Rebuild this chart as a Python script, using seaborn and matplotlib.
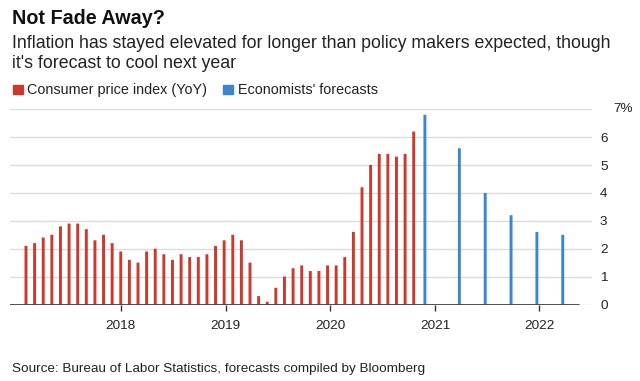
import pandas as pd
import seaborn as sns
import matplotlib.pyplot as plt
from matplotlib.patches import Rectangle

# CPI year-over-year, monthly (month index 0 = first bar)
cpi_values = [2.1, 2.2, 2.4, 2.5, 2.8, 2.9, 2.9, 2.7, 2.3, 2.5, 2.2, 1.9,
              1.6, 1.5, 1.9, 2.0, 1.8, 1.6, 1.8, 1.7, 1.7, 1.8, 2.1, 2.3,
              2.5, 2.3, 1.5, 0.3, 0.1, 0.6, 1.0, 1.3, 1.4, 1.2, 1.2, 1.4,
              1.4, 1.7, 2.6, 4.2, 5.0, 5.4, 5.4, 5.3, 5.4, 6.2]
cpi_months = list(range(len(cpi_values)))

# Economists' forecasts (quarterly, in month units)
forecast_months = [46.3, 50.3, 53.3, 56.3, 59.3, 62.3]
forecast_values = [6.8, 5.6, 4.0, 3.2, 2.6, 2.5]

year_ticks = [11.0, 23.18, 35.29, 47.47, 59.57]
year_labels = ["2018", "2019", "2020", "2021", "2022"]

RED = "#ca3b2e"
BLUE = "#3b87cf"

df = pd.DataFrame({
    "month": cpi_months + forecast_months,
    "value": cpi_values + forecast_values,
    "series": ["cpi"] * len(cpi_values) + ["forecast"] * len(forecast_values),
})

sns.set_style("white")
plt.rcParams["font.family"] = ["Liberation Sans", "DejaVu Sans"]

W, H = 640, 381
fig = plt.figure(figsize=(6.4, 3.81), dpi=100)


def fx(px):
    return px / W


def fy(py):
    return 1 - py / H


ax = fig.add_axes([fx(10), fy(304.5), fx(581.7), (304.5 - 109.2) / H])

sns.barplot(data=df, x="month", y="value", hue="series",
            palette={"cpi": RED, "forecast": BLUE}, native_scale=True,
            width=0.34, dodge=False, errorbar=None, legend=False,
            saturation=1, linewidth=0, ax=ax)
for p in ax.patches:
    p.set_snap(False)

ax.set_xlim(-1.857, 65.66)
ax.set_ylim(0, 7)
ax.set_xlabel("")
ax.set_ylabel("")
for s in ax.spines.values():
    s.set_visible(False)

# gridlines
ax.set_yticks(range(0, 8))
ax.yaxis.grid(True, color="#dcdcdc", linewidth=1)
ax.set_axisbelow(True)
ax.axhline(0, xmin=0, xmax=0.978, color="#333333", linewidth=1.2, zorder=5)

ax.yaxis.tick_right()
ax.set_yticklabels([str(i) for i in range(7)] + [""])
ax.tick_params(axis="y", length=0, pad=6, labelsize=9.7, labelcolor="#222222")
ax.text(fx(613 - 10) / fx(581.7), 7, "7%", transform=ax.get_yaxis_transform(),
        ha="left", va="center", fontsize=9.7, color="#222222")

ax.set_xticks(year_ticks)
ax.set_xticklabels(year_labels)
ax.tick_params(axis="x", length=4, width=1, color="#333333", pad=7,
               labelsize=9.7, labelcolor="#222222", bottom=True)

# titles
fig.text(fx(11.5), fy(24), "Not Fade Away?", fontsize=14.2, fontweight="bold",
         va="baseline", color="#111111")
fig.text(fx(11.5), fy(47.7),
         "Inflation has stayed elevated for longer than policy makers expected, though",
         fontsize=12.8, va="baseline", color="#222222")
fig.text(fx(11.5), fy(67.7), "it's forecast to cool next year",
         fontsize=12.8, va="baseline", color="#222222")

# legend
fig.patches.append(Rectangle((fx(12.7), fy(94)), fx(10), 9 / H,
                             transform=fig.transFigure, color=RED))
fig.text(fx(27.3), fy(94), "Consumer price index (YoY)", fontsize=10.4,
         va="baseline", color="#222222")
fig.patches.append(Rectangle((fx(223), fy(94)), fx(10), 9 / H,
                             transform=fig.transFigure, color=BLUE))
fig.text(fx(238), fy(94), "Economists' forecasts", fontsize=10.4,
         va="baseline", color="#222222")

fig.text(fx(11.5), fy(372.3),
         "Source: Bureau of Labor Statistics, forecasts compiled by Bloomberg",
         fontsize=9.7, va="baseline", color="#222222")

fig.savefig("out.png", dpi=100)
